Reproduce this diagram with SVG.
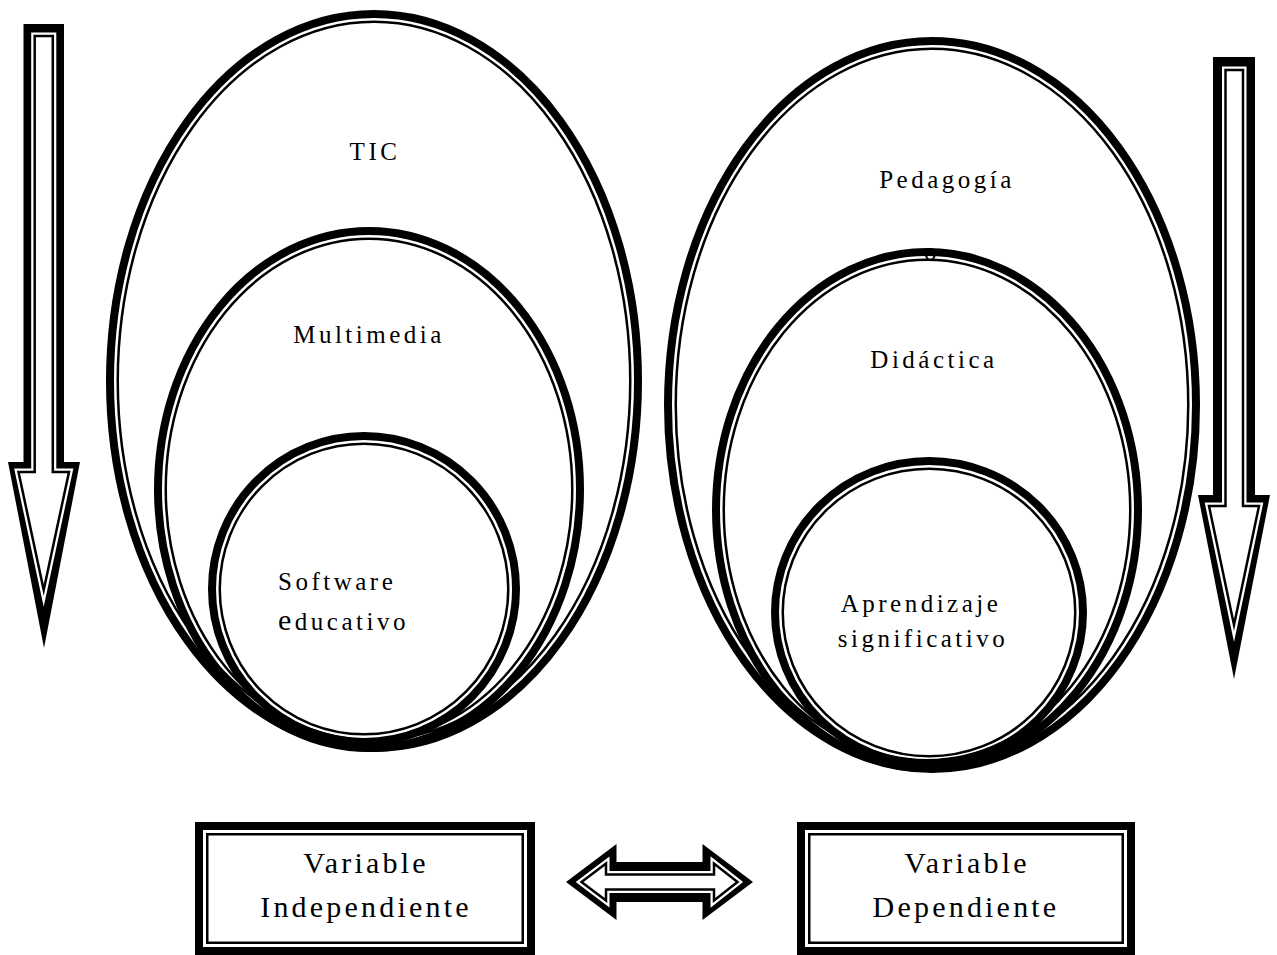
<svg xmlns="http://www.w3.org/2000/svg" width="1277" height="955" viewBox="0 0 1277 955">
<style>
.thick{fill:none;stroke:#000;stroke-width:8}
.thin{fill:none;stroke:#000;stroke-width:2.5}
.ao{fill:#000;stroke:none}
.gap{fill:#fff;stroke:#fff;stroke-width:7;stroke-linejoin:miter;stroke-miterlimit:10}
.ai{fill:none;stroke:#000;stroke-width:2.5;stroke-linejoin:miter;stroke-miterlimit:10}
.lbl{font-family:"Liberation Serif","Times New Roman",serif;font-size:25px;letter-spacing:3.5px;fill:#000}
.box{font-family:"Liberation Serif","Times New Roman",serif;font-size:30px;letter-spacing:3.2px;fill:#000}
</style>
<rect width="1277" height="955" fill="#fff"/>
<g id="tic">
<ellipse class="thick" cx="374" cy="381" rx="264" ry="367"/>
<ellipse class="thin" cx="374" cy="381" rx="256.25" ry="359.25"/>
<text class="lbl" x="375" y="160" text-anchor="middle">TIC</text>
</g>
<g id="multimedia">
<ellipse class="thick" cx="369" cy="489.5" rx="211" ry="258.5"/>
<ellipse class="thin" cx="369" cy="489.5" rx="203.25" ry="250.75"/>
<text class="lbl" x="369" y="343" text-anchor="middle">Multimedia</text>
</g>
<g id="software">
<ellipse class="thick" cx="364" cy="589" rx="152" ry="153"/>
<ellipse class="thin" cx="364" cy="589" rx="144.25" ry="145.25"/>
<text class="lbl" x="278" y="590">Software</text>
<text class="lbl" x="278" y="630"><tspan font-size="30">e</tspan>ducativo</text>
</g>
<g id="pedagogia">
<ellipse class="thick" cx="932" cy="405" rx="264" ry="364"/>
<ellipse class="thin" cx="932" cy="405" rx="256.25" ry="356.25"/>
<text class="lbl" x="947" y="188" text-anchor="middle">Pedagogía</text>
<text class="lbl" x="932" y="260" text-anchor="middle" font-size="20">o</text>
</g>
<g id="didactica">
<ellipse class="thick" cx="927" cy="510" rx="211" ry="258"/>
<ellipse class="thin" cx="927" cy="510" rx="203.25" ry="250.25"/>
<text class="lbl" x="934" y="368" text-anchor="middle">Didáctica</text>
</g>
<g id="aprendizaje">
<ellipse class="thick" cx="929" cy="612.5" rx="154" ry="151.5"/>
<ellipse class="thin" cx="929" cy="612.5" rx="146.25" ry="143.75"/>
<text class="lbl" x="921" y="612" text-anchor="middle">Aprendizaje</text>
<text class="lbl" x="923" y="647" text-anchor="middle">significativo</text>
</g>
<g id="var-independiente">
<rect class="thick" x="199" y="826" width="332" height="125"/>
<rect class="thin" x="207.25" y="834.25" width="315.5" height="108.5"/>
<text class="box" x="366" y="873" text-anchor="middle">Variable</text>
<text class="box" x="366" y="917" text-anchor="middle">Independiente</text>
</g>
<g id="var-dependiente">
<rect class="thick" x="801" y="826" width="330" height="125"/>
<rect class="thin" x="809.25" y="834.25" width="313.5" height="108.5"/>
<text class="box" x="967" y="873" text-anchor="middle">Variable</text>
<text class="box" x="966" y="917" text-anchor="middle">Dependiente</text>
</g>
<g id="connectors">
<g id="arrow-left">
<polygon class="ao" points="23.5,24 64,24 64,462 80,462 44,648 8,462 23.5,462"/>
<polygon class="gap" points="34.7,36 52.8,36 52.8,472 69,472 43.7,590 18.5,472 34.7,472"/>
<polygon class="ai" points="34.7,36 52.8,36 52.8,472 69,472 43.7,590 18.5,472 34.7,472"/>
</g>
<g id="arrow-right">
<polygon class="ao" points="1213,57 1255,57 1255,495 1270,495 1234,679 1198,495 1213,495"/>
<polygon class="gap" points="1225.5,70 1243,70 1243,506 1259,506 1234,625 1209,506 1225.5,506"/>
<polygon class="ai" points="1225.5,70 1243,70 1243,506 1259,506 1234,625 1209,506 1225.5,506"/>
</g>
<g id="arrow-double">
<polygon class="ao" points="616.5,862 702.5,862 702.5,844 753,882 702.5,920 702.5,902 616.5,902 616.5,920 566,882 616.5,844"/>
<polygon class="gap" stroke-width="6.5" points="606,874.5 714,874.5 714,863.5 737.5,882 714,900.5 714,889.5 606,889.5 606,900.5 581.5,882 606,863.5"/>
<polygon class="ai" stroke-width="2.3" points="606,874.5 714,874.5 714,863.5 737.5,882 714,900.5 714,889.5 606,889.5 606,900.5 581.5,882 606,863.5"/>
</g>
</g>
</svg>
